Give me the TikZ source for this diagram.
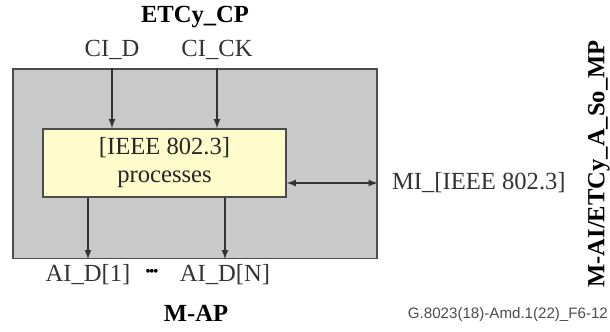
\documentclass[tikz,border=0pt]{standalone}
\usepackage{fontspec}
\setmainfont{Liberation Serif}
\newfontfamily\footfont{Liberation Sans}
\usetikzlibrary{calc}
\usetikzlibrary{arrows}

\begin{document}
\begin{tikzpicture}[font=\fontsize{14}{16}\selectfont,
  sig/.style={draw=black!80, -latex, thick},
  lbl/.style={inner sep=1pt}]
  \useasboundingbox (0,0) rectangle (12.2,-6.64);
  \node [draw=black!70, thick, fill=gray!42, minimum width=7.28cm, minimum height=3.79cm] (ap) at (3.9,-3.275) {};
  \node [draw=black!70, thick, fill=yellow!20, minimum width=4.86cm, minimum height=1.36cm, align=center, text=black!85] (proc) at (3.29,-3.26) {[IEEE 802.3]\\processes};
  \node [lbl, font=\fontsize{14}{16}\selectfont\bfseries] (cp) at (3.9,-0.34) {ETCy\_CP};
  \node [lbl, text=black!80] (cid) at (2.24,-1.0) {CI\_D};
  \node [lbl, text=black!80] (cick) at (4.34,-1.0) {CI\_CK};
  \node [lbl, text=black!80] (aid1) at (1.76,-5.5) {AI\_D[1]};
  \node [lbl, text=black!80] (aidn) at (4.5,-5.5) {AI\_D[N]};
  \node [lbl, font=\fontsize{9}{10}\selectfont] (dots) at (3.04,-5.46) {\textbullet\kern-1pt\textbullet\kern-1pt\textbullet};
  \node [lbl, font=\fontsize{14}{16}\selectfont\bfseries] (map) at (3.92,-6.26) {M-AP};
  \node [lbl, anchor=west, text=black!80] (mi) at (7.8,-3.66) {MI\_[IEEE 802.3]};
  \node [lbl, rotate=90, font=\fontsize{14}{16}\selectfont\bfseries] (mp) at (11.98,-3.28) {M-AI/ETCy\_A\_So\_MP};
  \node [lbl, anchor=east, text=black!70, font=\footfont\fontsize{8.6}{10}\selectfont] (fig) at (12.2,-6.3) {G.8023(18)-Amd.1(22)\_F6-12};
  % signals
  \draw [sig] (cid |- ap.north) -- (cid |- proc.north);
  \draw [sig] (cick |- ap.north) -- (cick |- proc.north);
  \draw [sig] (aid1 |- proc.south) -- (aid1 |- ap.south);
  \draw [sig] (aidn |- proc.south) -- (aidn |- ap.south);
  \draw [sig, latex-latex] (proc.east |- mi) -- (ap.east |- mi);
\end{tikzpicture}
\end{document}
